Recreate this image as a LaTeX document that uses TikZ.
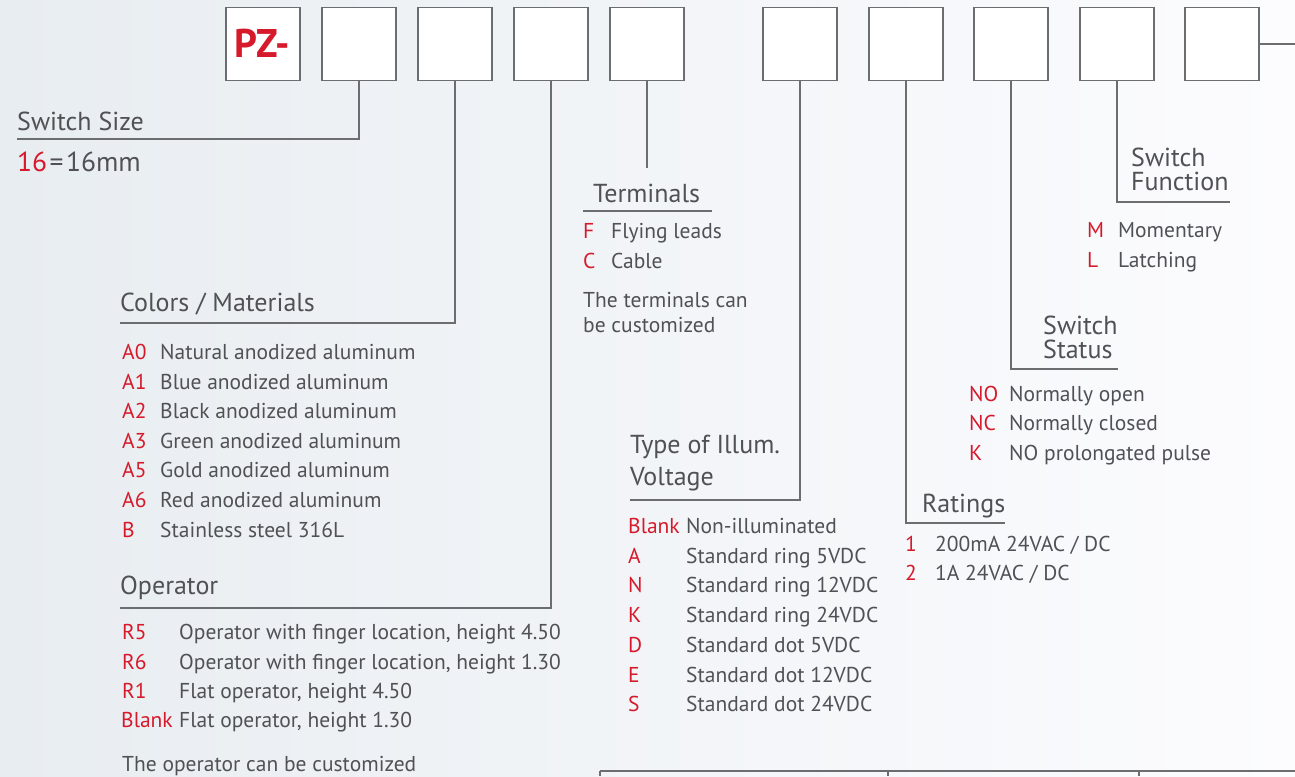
\documentclass[tikz,border=0pt]{standalone}
\usepackage{fontspec}
\setmainfont{PT Sans}
\definecolor{txt}{RGB}{80,81,84}
\definecolor{redc}{RGB}{214,26,44}
\definecolor{linec}{RGB}{108,109,111}
\definecolor{bgL}{RGB}{232,237,241}
\definecolor{bgR}{RGB}{252,252,254}
\tikzset{
  hd/.style={font=\fontsize{26}{26}\selectfont, text=txt, anchor=west, inner sep=0pt, text height=18.2pt, text depth=0pt},
  it/.style={font=\fontsize{21.5}{22}\selectfont, text=txt, anchor=west, inner sep=0pt, text height=15pt, text depth=0pt},
  cd/.style={it, text=redc},
  box/.style={draw=linec, line width=1.4pt, fill=white, minimum width=74pt, minimum height=73pt, inner sep=0pt},
  conn/.style={draw=linec, line width=1.4pt},
}
\begin{document}
\begin{tikzpicture}[x=1pt,y=-1pt]
\useasboundingbox (0,0) rectangle (1295,776);
\shade[left color=bgL, right color=bgR] (0,0) rectangle (1295,776);
% boxes
\node[box] (b1) at (263,44) {};
\node[font=\fontsize{40}{40}\selectfont\bfseries, text=redc, inner sep=0pt, text height=28pt, text depth=0pt] (pz) at (262,43) {PZ-};
\node[box] (b2) at (359,44) {};
\node[box] (b3) at (455,44) {};
\node[box] (b4) at (551,44) {};
\node[box] (b5) at (647,44) {};
\node[box] (b6) at (800,44) {};
\node[box] (b7) at (906,44) {};
\node[box] (b8) at (1011,44) {};
\node[box] (b9) at (1117,44) {};
\node[box] (b10) at (1222,44) {};
% coordinates
\coordinate (c2) at (17,139);
\coordinate (c3) at (120,323);
\coordinate (c4) at (120,608);
\coordinate (c5) at (647,168);
\coordinate (c6) at (630,500);
\coordinate (c7) at (1005,523);
\coordinate (c8) at (1118,369);
\coordinate (c9) at (1230,202);
\coordinate (c10) at (1295,44);
\coordinate (tA) at (583,211);
\coordinate (tB) at (712,211);
% connectors
\draw[conn] (b2.south) |- (c2);
\draw[conn] (b3.south) |- (c3);
\draw[conn] (b4.south) |- (c4);
\draw[conn] (b5.south) -- (c5);
\draw[conn] (tA) -- (tB);
\draw[conn] (b6.south) |- (c6);
\draw[conn] (b7.south) |- (c7);
\draw[conn] (b8.south) |- (c8);
\draw[conn] (b9.south) |- (c9);
\draw[conn] (b10.east) -- (c10);
% table at bottom
\coordinate (r0) at (600,771);
\coordinate (r1) at (1295,771);
\coordinate (v1a) at (600,771);
\coordinate (v1b) at (600,776);
\coordinate (v2a) at (888,771);
\coordinate (v2b) at (888,776);
\coordinate (v3a) at (1139,771);
\coordinate (v3b) at (1139,776);
\draw[conn] (r0) -- (r1);
\draw[conn] (v1a) -- (v1b);
\draw[conn] (v2a) -- (v2b);
\draw[conn] (v3a) -- (v3b);
% Switch size
\node[hd] (hss) at (17,121) {Switch Size};
\node[hd, font=\fontsize{27.5}{28}\selectfont, text height=19pt] (ss1) at (17,162) {\color{redc}16\color{txt}\kern2.5pt=\kern2.5pt16mm};
% Colors / Materials
\node[hd] (hcm) at (120,302) {Colors / Materials};
\node[cd] (a0) at (122,352) {A0};  \node[it] (a0t) at (160,352) {Natural anodized aluminum};
\node[cd] (a1) at (122,382) {A1};  \node[it] (a1t) at (160,382) {Blue anodized aluminum};
\node[cd] (a2) at (122,411) {A2};  \node[it] (a2t) at (160,411) {Black anodized aluminum};
\node[cd] (a3) at (122,441) {A3};  \node[it] (a3t) at (160,441) {Green anodized aluminum};
\node[cd] (a5) at (122,470) {A5};  \node[it] (a5t) at (160,470) {Gold anodized aluminum};
\node[cd] (a6) at (122,500) {A6};  \node[it] (a6t) at (160,500) {Red anodized aluminum};
\node[cd] (bb) at (122,530) {B};   \node[it] (bbt) at (160,530) {Stainless steel 316L};
% Operator
\node[hd] (hop) at (120,585) {Operator};
\node[cd] (r5) at (122,632) {R5};    \node[it] (r5t) at (179,632) {Operator with finger location, height 4.50};
\node[cd] (r6) at (122,662) {R6};    \node[it] (r6t) at (179,662) {Operator with finger location, height 1.30};
\node[cd] (r1c) at (122,691) {R1};   \node[it] (r1t) at (179,691) {Flat operator, height 4.50};
\node[cd] (rbl) at (121,720) {Blank};\node[it] (rblt) at (179,720) {Flat operator, height 1.30};
\node[it] (opc) at (122,764) {The operator can be customized};
% Terminals
\node[hd] (hte) at (593,193) {Terminals};
\node[cd] (tf) at (583,231) {F}; \node[it] (tft) at (611,231) {Flying leads};
\node[cd] (tc) at (583,261) {C}; \node[it] (tct) at (611,261) {Cable};
\node[it] (tc1) at (583,300) {The terminals can};
\node[it] (tc2) at (583,325) {be customized};
% Illumination
\node[hd] (hil1) at (630,444) {Type of Illum.};
\node[hd] (hil2) at (630,476) {Voltage};
\node[cd] (ib) at (628,526) {Blank}; \node[it] (ibt) at (686,526) {Non-illuminated};
\node[cd] (ia) at (628,556) {A}; \node[it] (iat) at (686,556) {Standard ring 5VDC};
\node[cd] (in) at (628,585) {N}; \node[it] (int) at (686,585) {Standard ring 12VDC};
\node[cd] (ik) at (628,615) {K}; \node[it] (ikt) at (686,615) {Standard ring 24VDC};
\node[cd] (id) at (628,645) {D}; \node[it] (idt) at (686,645) {Standard dot 5VDC};
\node[cd] (ie) at (628,675) {E}; \node[it] (iet) at (686,675) {Standard dot 12VDC};
\node[cd] (is) at (628,704) {S}; \node[it] (ist) at (686,704) {Standard dot 24VDC};
% Ratings
\node[hd] (hra) at (922,503) {Ratings};
\node[cd] (ra1) at (905,544) {1}; \node[it] (ra1t) at (935,544) {200mA 24VAC / DC};
\node[cd] (ra2) at (905,573) {2}; \node[it] (ra2t) at (935,573) {1A 24VAC / DC};
% Switch Status
\node[hd] (hst1) at (1043,325) {Switch};
\node[hd] (hst2) at (1043,349) {Status};
\node[cd] (sno) at (969,394) {NO}; \node[it] (snot) at (1009,394) {Normally open};
\node[cd] (snc) at (969,423) {NC}; \node[it] (snct) at (1009,423) {Normally closed};
\node[cd] (sk) at (969,453) {K};   \node[it] (skt) at (1009,453) {NO prolongated pulse};
% Switch Function
\node[hd] (hfn1) at (1131,157) {Switch};
\node[hd] (hfn2) at (1131,181) {Function};
\node[cd] (fm) at (1087,230) {M}; \node[it] (fmt) at (1118,230) {Momentary};
\node[cd] (fl) at (1087,260) {L}; \node[it] (flt) at (1118,260) {Latching};
\end{tikzpicture}
\end{document}
